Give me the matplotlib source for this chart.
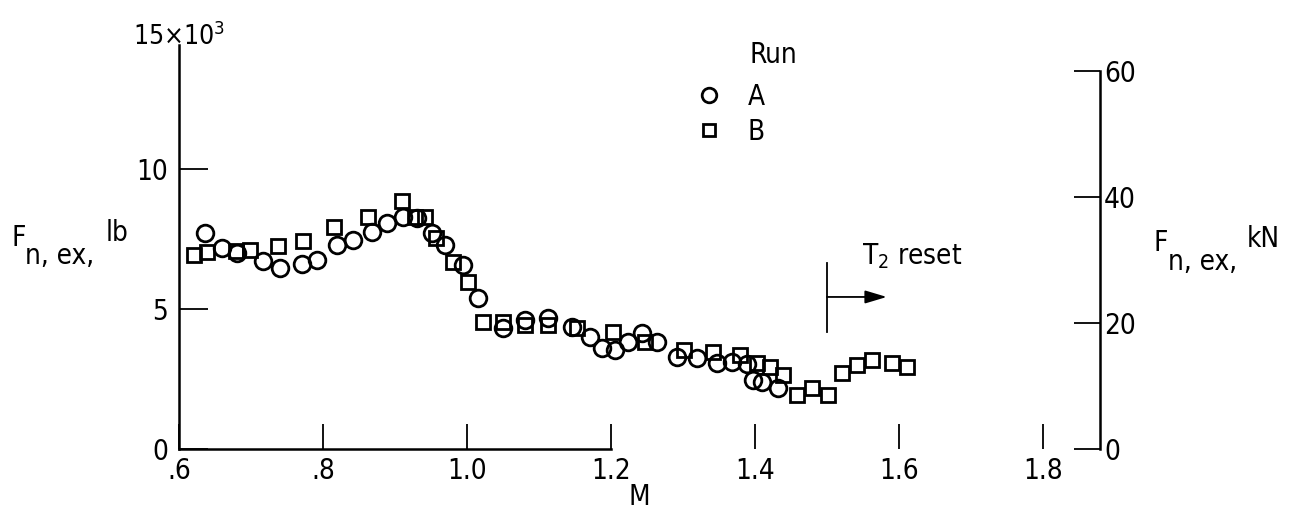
import matplotlib
matplotlib.use("Agg")
import matplotlib.pyplot as plt
from matplotlib.lines import Line2D

plt.rcParams['font.family'] = ['DejaVu Sans']
plt.rcParams['font.stretch'] = 'condensed'

# Run A (circles): Mach number and net thrust, klb
mach_a = [0.636, 0.660, 0.681, 0.717, 0.740, 0.771, 0.792, 0.819, 0.842, 0.868,
          0.889, 0.911, 0.931, 0.951, 0.969, 0.994, 1.015, 1.050, 1.081, 1.112,
          1.146, 1.171, 1.188, 1.206, 1.224, 1.243, 1.264, 1.292, 1.319, 1.347,
          1.368, 1.389, 1.397, 1.410, 1.432]
thrust_a = [7.71, 7.18, 7.00, 6.71, 6.46, 6.61, 6.75, 7.29, 7.46, 7.75,
            8.07, 8.29, 8.25, 7.71, 7.29, 6.57, 5.39, 4.32, 4.60, 4.68,
            4.36, 4.00, 3.60, 3.54, 3.82, 4.14, 3.82, 3.29, 3.25, 3.07,
            3.11, 3.02, 2.48, 2.39, 2.18]

# Run B (squares)
mach_b = [0.621, 0.639, 0.679, 0.699, 0.738, 0.772, 0.815, 0.862, 0.910, 0.928,
          0.942, 0.957, 0.981, 1.001, 1.022, 1.050, 1.081, 1.112, 1.153, 1.203,
          1.247, 1.301, 1.342, 1.379, 1.403, 1.421, 1.439, 1.458, 1.479, 1.501,
          1.521, 1.542, 1.563, 1.590, 1.611]
thrust_b = [6.93, 7.04, 7.07, 7.10, 7.25, 7.43, 7.93, 8.29, 8.86, 8.29,
            8.29, 7.54, 6.68, 5.96, 4.54, 4.54, 4.43, 4.43, 4.32, 4.18,
            3.82, 3.54, 3.46, 3.36, 3.07, 2.93, 2.64, 1.93, 2.18, 1.93,
            2.71, 3.00, 3.18, 3.07, 2.93]

x_ticks = [0.6, 0.8, 1.0, 1.2, 1.4, 1.6, 1.8]
x_labels = ['.6', '.8', '1.0', '1.2', '1.4', '1.6', '1.8']
lb_ticks = [0, 5, 10]
kn_ticks = [0, 20, 40, 60]
LB_TO_KN = 4.448

reset_mach = 1.5

W, H = 1296, 521
FS = 20


def fpos(x, y):
    return x / W, 1 - y / H


fig = plt.figure(figsize=(W / 100, H / 100), dpi=100)
ax = fig.add_axes([179 / W, (H - 449) / H, (1100 - 179) / W, (449 - 29) / H])

ax.plot(mach_a, thrust_a, 'o', ms=12, mfc='none', mec='black', mew=2.0, label='A')
ax.plot(mach_b, thrust_b, 's', ms=10, mfc='none', mec='black', mew=2.0, label='B')

ax.set_xlim(0.6, 0.6 + 921 / 720)
ax.set_ylim(0, 15)
ax.set_xticks(x_ticks)
ax.set_xticklabels(x_labels)
ax.set_yticks(lb_ticks)
ax.tick_params(axis='x', direction='in', length=18, width=1.3, pad=6, labelsize=FS)
ax.tick_params(axis='y', direction='in', length=21, width=1.3, pad=8, labelsize=FS)

for s in ['top', 'right']:
    ax.spines[s].set_visible(False)
ax.spines['left'].set_linewidth(1.8)
ax.spines['bottom'].set_linewidth(1.8)
ax.spines['left'].set_bounds(0, 14.43)
ax.spines['bottom'].set_bounds(0.6, 1.2)

# right-hand scale in kN
ax2 = ax.twinx()
ax2.set_ylim(0, 15 * LB_TO_KN)
ax2.set_yticks(kn_ticks)
ax2.tick_params(axis='y', direction='in', length=19, width=1.3, pad=3, labelsize=FS)
for s in ['top', 'left', 'bottom']:
    ax2.spines[s].set_visible(False)
ax2.spines['right'].set_linewidth(1.8)
ax2.spines['right'].set_bounds(0, 60)

# T2 reset marker
ax.plot([reset_mach, reset_mach], [4.18, 6.64], color='black', lw=1.3)
ax.annotate('', xy=(1.583, 5.43), xytext=(reset_mach, 5.43),
            arrowprops=dict(arrowstyle='-|>,head_length=0.6,head_width=0.18',
                            color='black', lw=1.3,
                            mutation_scale=22, shrinkA=0, shrinkB=0))
ax.text(1.549, 6.9, r'T$_2$ reset', fontsize=FS, va='center', ha='left')

ax.set_xlabel('M', fontsize=FS, labelpad=-2)

fig.text(*fpos(179, 45), r'15$\times$10$^3$', fontsize=FS - 1, ha='center', va='baseline')

# axis titles
fig.text(*fpos(12, 238), 'F', fontsize=FS, ha='left', va='center')
fig.text(*fpos(25, 256), 'n, ex,', fontsize=FS, ha='left', va='center')
fig.text(*fpos(106, 233), 'lb', fontsize=FS, ha='left', va='center')
fig.text(*fpos(1154, 243), 'F', fontsize=FS, ha='left', va='center')
fig.text(*fpos(1168, 262), 'n, ex,', fontsize=FS, ha='left', va='center')
fig.text(*fpos(1247, 239), 'kN', fontsize=FS, ha='left', va='center')

# legend
fig.text(*fpos(749, 55), 'Run', fontsize=FS, ha='left', va='center')
handles = [Line2D([], [], ls='none', marker='o', ms=10.5, mfc='none', mec='black', mew=2.0),
           Line2D([], [], ls='none', marker='s', ms=9, mfc='none', mec='black', mew=2.0)]
ax.legend(handles, ['A', 'B'], loc='upper left', frameon=False, fontsize=FS,
          bbox_to_anchor=fpos(698, 83), bbox_transform=fig.transFigure,
          handlelength=0.8, handletextpad=1.0, labelspacing=0.25,
          borderpad=0, borderaxespad=0)

fig.savefig('out.png', dpi=100)
